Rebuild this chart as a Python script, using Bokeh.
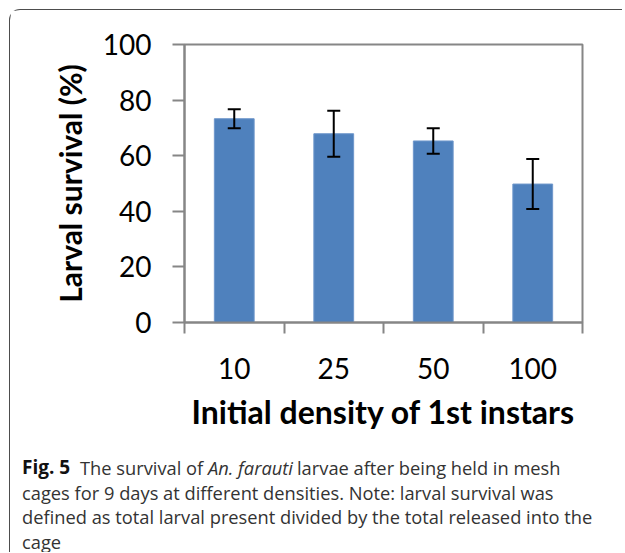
from bokeh.plotting import figure
from bokeh.layouts import column
from bokeh.models import ColumnDataSource, Range1d, FixedTicker, Whisker, TeeHead
from bokeh.core.properties import value
from bokeh.embed import file_html
from bokeh.resources import INLINE

# ---- data ----
densities = ["10", "25", "50", "100"]
survival = [73.3, 67.9, 65.3, 49.8]
errors = [3.4, 8.3, 4.6, 9.0]
y_ticks = [0, 20, 40, 60, 80, 100]

x_label = "Initial density of 1st instars"
y_label = "Larval survival (%)"
caption_line1 = ["Fig. 5", "The survival of", "An. farauti", "larvae after being held in mesh"]
caption_line1_style = ["bold", "normal", "italic", "normal"]
caption_rest = ["cages for 9 days at different densities. Note: larval survival was",
                "defined as total larval present divided by the total released into the",
                "cage"]

# ---- layout constants (page coordinates of the reference) ----
FRAME_L, FRAME_T, FRAME_R, FRAME_B = 185, 44, 583, 322
X0, Y0 = 10.5, 10.5          # where the content starts on the page
W = 612
H1 = 430                     # chart part
H2 = 112                     # caption part

xs = [i + 0.5 for i in range(len(densities))]
src = ColumnDataSource(dict(
    x=xs, top=survival,
    upper=[s + e for s, e in zip(survival, errors)],
    lower=[s - e for s, e in zip(survival, errors)],
))

p = figure(width=W, height=H1, output_backend="svg", toolbar_location=None,
           x_range=Range1d(0, len(densities)), y_range=Range1d(0, 100),
           min_border_left=round(FRAME_L - X0), min_border_top=round(FRAME_T - Y0),
           min_border_right=round(X0 + W - FRAME_R),
           min_border_bottom=round(Y0 + H1 - FRAME_B))
p.frame_align = False

p.background_fill_color = "white"
p.border_fill_color = "white"
p.outline_line_color = "#868686"
p.outline_line_width = 2
p.xgrid.grid_line_color = None
p.ygrid.grid_line_color = None

p.vbar(x="x", top="top", width=0.4, bottom=0, source=src,
       fill_color="#4F81BD", line_color="#6F97CB", line_width=1)

w = Whisker(base="x", upper="upper", lower="lower", source=src, level="overlay",
            line_color="black", line_width=2,
            upper_head=TeeHead(size=13, line_width=2, line_color="black"),
            lower_head=TeeHead(size=13, line_width=2, line_color="black"))
p.add_layout(w)

GRAY = "#868686"
FONT = "Lato"

yax = p.yaxis[0]
yax.ticker = FixedTicker(ticks=y_ticks)
yax.axis_line_color = GRAY
yax.axis_line_width = 2
yax.major_tick_line_color = GRAY
yax.major_tick_line_width = 2
yax.major_tick_out = 12
yax.major_tick_in = 0
yax.minor_tick_line_color = None
yax.major_label_text_font = FONT
yax.major_label_text_font_size = "28px"
yax.major_label_text_color = "black"
yax.major_label_standoff = 21
yax.axis_label = y_label
yax.axis_label_text_font = FONT
yax.axis_label_text_font_style = "bold"
yax.axis_label_text_font_size = "30px"
yax.axis_label_text_color = "black"
yax.axis_label_standoff = 12

xax = p.xaxis[0]
xax.ticker = FixedTicker(ticks=xs, minor_ticks=list(range(len(densities) + 1)))
xax.major_label_overrides = {x: d for x, d in zip(xs, densities)}
xax.axis_line_color = GRAY
xax.axis_line_width = 2
xax.major_tick_line_color = None
xax.major_tick_out = 0
xax.major_tick_in = 0
xax.minor_tick_line_color = GRAY
xax.minor_tick_line_width = 2
xax.minor_tick_out = 11
xax.minor_tick_in = 0
xax.major_label_text_font = FONT
xax.major_label_text_font_size = "28px"
xax.major_label_text_color = "black"
xax.major_label_standoff = 24
xax.axis_label = x_label
xax.axis_label_text_font = FONT
xax.axis_label_text_font_style = "bold"
xax.axis_label_text_font_size = "32px"
xax.axis_label_text_color = "black"
xax.axis_label_standoff = 10

# ---- caption (separate figure, y grows downward, units = page pixels) ----
CY0 = Y0 + H1
c = figure(width=W, height=H2, output_backend="svg", toolbar_location=None,
           x_range=Range1d(X0, X0 + W), y_range=Range1d(CY0 + H2, CY0),
           x_axis_type=None, y_axis_type=None, min_border=0)
c.frame_align = False
c.outline_line_color = None
c.background_fill_color = "white"
c.border_fill_color = "white"
c.xgrid.grid_line_color = None
c.ygrid.grid_line_color = None

CAP_FONT = "Open Sans"
CAP_SIZE = "18.3px"
line1_x = [22, 80, 208, 297]
line1_size = ["19px", CAP_SIZE, CAP_SIZE, CAP_SIZE]
baselines = [467, 492, 516, 541]

for txt, style, px, sz in zip(caption_line1, caption_line1_style, line1_x, line1_size):
    c.text(x=[px], y=[baselines[0]], text=[txt], text_font=value(CAP_FONT),
           text_font_size=value(sz), text_font_style=style,
           text_color="#111111" if style == "bold" else "#333333",
           text_baseline="alphabetic", text_align="left")
c.text(x=[22] * len(caption_rest), y=baselines[1:], text=caption_rest,
       text_font=value(CAP_FONT), text_font_size=value(CAP_SIZE),
       text_color="#333333", text_baseline="alphabetic", text_align="left")

layout = column(p, c, spacing=0)
layout.styles = {"margin-left": "9px", "margin-top": "9px",
                 "border-left": "1.5px solid #4d4d4d", "border-top": "1.5px solid #4d4d4d",
                 "border-top-left-radius": "11px"}

open("out.html", "w").write(file_html(layout, INLINE))
